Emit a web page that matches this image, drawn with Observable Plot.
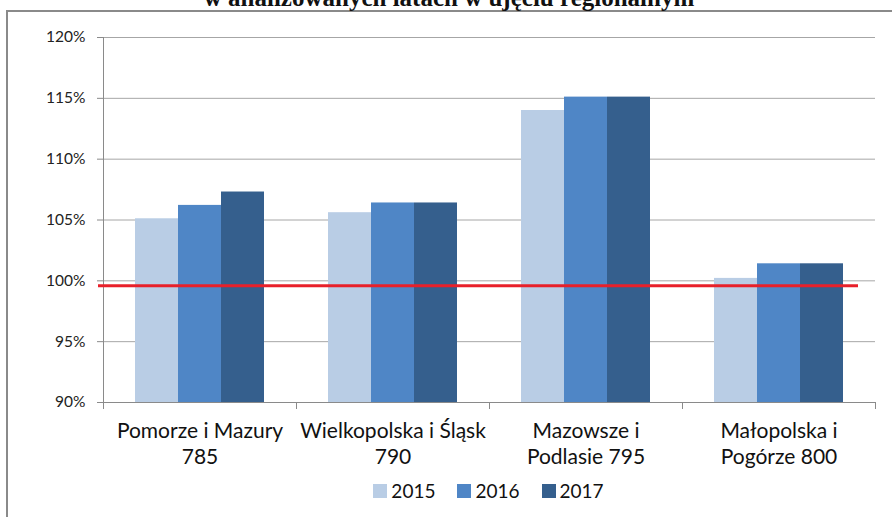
<!DOCTYPE html>
<html>
<head>
<meta charset="utf-8">
<script src="https://cdn.jsdelivr.net/npm/d3@7"></script>
<script src="https://cdn.jsdelivr.net/npm/@observablehq/plot@0.6"></script>
<style>
  html, body { margin: 0; padding: 0; background: #fff; }
  #wrap { position: relative; width: 892px; height: 517px; overflow: hidden; background: #fff; }
  #frame { position: absolute; left: 6px; top: 10px; width: 900px; height: 520px;
           border-top: 2px solid #8a8a8a; border-left: 2px solid #8a8a8a; box-sizing: border-box; }
  #title { position: absolute; left: 0; width: 898px; top: -15px; text-align: center;
           font: bold 25px/25px "Liberation Serif", "DejaVu Serif", serif; color: #111; white-space: nowrap; }
  #chart { position: absolute; left: 0; top: 0; }
  #legend { position: absolute; left: 101px; width: 775px; top: 479px; display: flex; justify-content: center;
            gap: 22px; font: 19px Lato, "Open Sans", sans-serif; color: #111; }
  #legend .item { display: flex; align-items: center; gap: 4px; }
  #legend .sw { width: 14px; height: 14px; display: inline-block; }
</style>
</head>
<body>
<div id="wrap">
  <div id="frame"></div>
  <div id="title">w analizowanych latach w ujęciu regionalnym</div>
  <div id="chart"></div>
  <div id="legend"></div>
</div>
<script>
const regions = ["Pomorze i Mazury\n785", "Wielkopolska i Śląsk\n790", "Mazowsze i\nPodlasie 795", "Małopolska i\nPogórze 800"];
const years = ["2015", "2016", "2017"];
const values2015 = [105.1, 105.6, 114.0, 100.2];
const values2016 = [106.2, 106.4, 115.1, 101.4];
const values2017 = [107.3, 106.4, 115.1, 101.4];
const colors = ["#b9cde5", "#4f86c6", "#355f8d"];
const yTicks = [90, 95, 100, 105, 110, 115, 120];
const referenceLine = 99.6;

const series = [values2015, values2016, values2017];
const data = [];
regions.forEach((r, i) => years.forEach((y, j) => data.push({region: r, year: y, value: series[j][i]})));
const refData = regions.map(r => ({region: r, value: referenceLine}));
const last = regions.length - 1;

const redStyle = {fx: "region", y: "value", stroke: "#e8202a", strokeWidth: 3};

const chart = Plot.plot({
  width: 892,
  height: 470,
  marginTop: 37,
  marginBottom: 68,
  marginLeft: 101,
  marginRight: 16,
  style: {fontFamily: "Lato, 'Open Sans', sans-serif", background: "transparent"},
  fx: {domain: regions, padding: 0, label: null},
  x: {domain: years, paddingInner: 0, paddingOuter: 0.72, axis: null},
  y: {domain: [90, 120], ticks: yTicks, label: null},
  color: {domain: years, range: colors},
  marks: [
    Plot.gridY(yTicks, {stroke: "#a6a6a6", strokeOpacity: 1, strokeWidth: 1}),
    Plot.axisY(yTicks, {tickFormat: d => d + "%", tickSize: 6, tickPadding: 12, fontSize: 15.5, fill: "#222", stroke: "#8a8a8a", strokeWidth: 1, label: null}),
    Plot.axisFx({anchor: "bottom", tickSize: 0, tickPadding: 17, fontSize: 21, fill: "#111", lineHeight: 1.25, label: null}),
    Plot.barY(data, {fx: "region", x: "year", y1: 90, y2: "value", fill: "year"}),
    Plot.frame({anchor: "bottom", stroke: "#8a8a8a", strokeOpacity: 1}),
    Plot.frame({anchor: "left", stroke: "#8a8a8a", strokeOpacity: 1, insetTop: 365, insetBottom: -6}),
    Plot.frame({anchor: "right", stroke: "#8a8a8a", strokeOpacity: 1, insetTop: 365, insetBottom: -6}),
    Plot.frame({anchor: "left", stroke: "#8a8a8a", strokeOpacity: 1, facet: "super"}),
    Plot.ruleY(refData.filter((d, i) => i === 0), {...redStyle, insetLeft: -5}),
    Plot.ruleY(refData.filter((d, i) => i > 0 && i < last), redStyle),
    Plot.ruleY(refData.filter((d, i) => i === last), {...redStyle, insetRight: 17})
  ]
});
document.getElementById("chart").appendChild(chart);

const legend = document.getElementById("legend");
years.forEach((y, i) => {
  const it = document.createElement("div");
  it.className = "item";
  it.innerHTML = `<span class="sw" style="background:${colors[i]}"></span><span>${y}</span>`;
  legend.appendChild(it);
});
</script>
</body>
</html>
